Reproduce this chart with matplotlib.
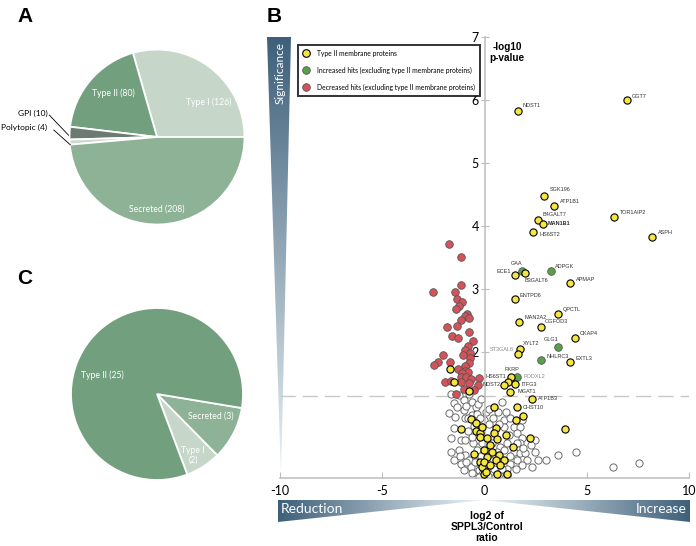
import numpy as np
import matplotlib.pyplot as plt
from matplotlib.patches import Polygon
from matplotlib.lines import Line2D

W, H = 696, 546

# ---------------- data ----------------
# panel A: all hits by topology
pie_a_labels = ["Type I (126)", "Type II (80)", "GPI (10)", "Polytopic (4)", "Secreted (208)"]
pie_a_values = [126, 80, 10, 4, 208]

# panel C: significant hits
pie_c_labels = ["Type I\n(2)", "Secreted (3)", "Type II (25)"]
pie_c_values = [2, 3, 25]

# panel B: labelled type II membrane proteins (log2 ratio, -log10 p)
yellow_names = ["GGT7", "NDST1", "SGK196", "ATP1B1", "B4GALT7", "MAN1B1", "HS6ST2",
                "TOR1AIP2", "ASPH", "ECE1", "B3GALT6", "APMAP", "ENTPD6", "QPCTL",
                "MAN2A2", "OGFOD3", "CKAP4", "XYLT2", "ST3GAL6", "EXTL3", "FKRP",
                "HS6ST1", "ITFG3", "NDST2", "MGAT1", "ATP1B3", "CHST10"]
yellow_x = [6.98, 1.63, 2.92, 3.41, 2.61, 2.85, 2.38, 6.31, 8.21, 1.50, 2.00, 4.20,
            1.48, 3.60, 1.69, 2.77, 4.43, 1.74, 1.64, 4.20, 1.32, 1.14, 1.50, 0.94,
            1.27, 2.30, 1.58]
yellow_y = [6.00, 5.83, 4.48, 4.32, 4.10, 4.03, 3.90, 4.15, 3.82, 3.23, 3.26, 3.10,
            2.84, 2.61, 2.48, 2.40, 2.23, 2.04, 1.97, 1.84, 1.61, 1.53, 1.49, 1.47,
            1.37, 1.25, 1.13]

# unlabelled type II membrane proteins
yellow_x2 = [-1.70, -1.47, -0.75, 1.89, 1.55, 3.96, 0.46, -0.68, -0.44, -1.14, -0.44,
             -0.24, -0.20, -0.52, -0.20, -0.11, -0.03, -0.11, 0.54, 0.46, 1.03, 0.13,
             0.62, 2.22, 1.39, 0.29, -0.03, 0.38, 0.70, 0.13, 0.54, 0.94, -0.03, 0.29,
             0.78, 0.05, 0.62, 1.11]
yellow_y2 = [1.73, 1.52, 1.38, 0.98, 0.92, 0.77, 1.12, 0.94, 0.87, 0.77, 0.75, 0.72,
             0.65, 0.38, 0.26, 0.18, 0.07, 0.81, 0.79, 0.71, 0.68, 0.63, 0.62, 0.63,
             0.49, 0.52, 0.44, 0.42, 0.37, 0.34, 0.29, 0.29, 0.26, 0.21, 0.21, 0.10,
             0.07, 0.07]

# increased hits (not type II)
green_names = ["GAA", "ADPGK", "GLG1", "NHLRC3", "PODXL2"]
green_x = [1.81, 3.26, 3.60, 2.77, 1.60]
green_y = [3.28, 3.29, 2.08, 1.88, 1.60]

# decreased hits (not type II)
red_x = [-1.74, -1.16, -1.16, -2.54, -1.43, -1.34, -1.11, -1.24, -1.40, -0.88, -0.96,
         -0.75, -1.17, -1.34, -1.81, -0.77, -1.60, -1.29, -0.54, -0.80, -0.93, -0.73,
         -1.04, -2.04, -0.72, -0.75, -0.93, -2.26, -2.49, -1.68, -1.30, -0.96, -0.80,
         -1.09, -1.17, -0.91, -0.68, -0.29, -1.92, -1.66, -1.17, -0.77, -0.33, -1.01,
         -0.52, -1.38]
red_y = [3.71, 3.51, 3.06, 2.96, 2.95, 2.84, 2.79, 2.73, 2.68, 2.61, 2.57, 2.54, 2.51,
         2.42, 2.40, 2.31, 2.25, 2.23, 2.18, 2.10, 2.03, 1.98, 1.95, 1.96, 1.90, 1.82,
         1.78, 1.84, 1.80, 1.84, 1.73, 1.70, 1.69, 1.66, 1.61, 1.61, 1.57, 1.58, 1.53,
         1.54, 1.52, 1.51, 1.47, 1.41, 1.40, 1.33]

# non-significant proteins
gray_x = [-1.66, -1.26, -0.77, -1.01, -0.60, -1.50, -0.44, -1.34, -1.74, -1.01, 0.05,
          -1.42, -0.93, -0.03, 0.94, 1.27, 1.84, -1.50, -0.68, 0.94, 1.43, 1.76, -1.66,
          -1.17, 1.19, 1.60, 1.84, 2.49, 1.76, 2.25, -1.66, -1.26, -0.93, 1.43, 1.76,
          2.00, -1.50, -0.77, 1.60, 2.09, -1.17, -0.36, 1.27, 1.84, 2.33, -0.68, -0.28,
          1.11, 1.52, -0.11, 0.29, 0.70, 1.11, -1.01,
          -0.60, -0.35, -0.20, -0.50, -0.30, -0.55, -0.10, 0.10, -0.35, -0.60, -0.80,
          -0.15, 0.25, 0.45, 0.85, -0.45, 0.00, 0.35, 0.75, 0.95, 0.20, 0.40, 0.70,
          1.10, 1.25, 0.60, 0.15, 0.50, -0.25, -0.60, -0.90, -1.20, -0.95, -0.80,
          -0.30, -0.90, -0.15, 0.20, 0.65, 0.85, 1.05, 1.60, 1.90, 2.60, 2.45,
          3.03, 3.60, 4.48, 6.29, 7.56]
gray_y = [1.34, 1.32, 1.34, 1.24, 1.21, 1.19, 1.13, 1.13, 1.03, 1.08, 1.05, 0.97, 0.95,
          0.92, 0.92, 0.95, 0.92, 0.79, 0.73, 0.81, 0.81, 0.81, 0.63, 0.60, 0.68, 0.71,
          0.63, 0.60, 0.55, 0.52, 0.42, 0.44, 0.37, 0.42, 0.39, 0.39, 0.29, 0.29, 0.29,
          0.29, 0.23, 0.26, 0.23, 0.21, 0.18, 0.18, 0.13, 0.15, 0.15, 0.07, 0.07, 0.07,
          0.05, 0.13,
          1.00, 1.02, 0.95, 0.82, 0.60, 0.55, 0.55, 0.45, 0.45, 0.65, 0.75, 0.35, 0.28,
          0.15, 0.15, 0.25, 0.20, 0.55, 0.50, 0.45, 0.85, 0.95, 0.85, 0.55, 0.35, 0.42,
          0.03, 0.02, 0.02, 0.08, 0.25, 0.35, 0.60, 0.95, 1.18, 1.15, 1.25, 1.10, 1.05,
          1.20, 1.05, 0.55, 0.48, 0.28, 0.42,
          0.29, 0.36, 0.41, 0.17, 0.24]

x_ticks = [-10, -5, 0, 5, 10]
y_ticks = [1, 2, 3, 4, 5, 6, 7]
p_cut = 1.3  # -log10(0.05)

# label placement (pixel offsets from the point, horizontal alignment)
label_pos = {
    "GGT7": (5, 3, "left"), "NDST1": (5, 5, "left"), "SGK196": (6, 6, "left"),
    "ATP1B1": (6, 4, "left"), "B4GALT7": (5, 5, "left"), "MAN1B1": (5, 1, "left"),
    "HS6ST2": (6, -2, "left"), "TOR1AIP2": (6, 4, "left"), "ASPH": (6, 5, "left"),
    "ECE1": (-4, 3, "right"), "B3GALT6": (-1, -8, "left"), "APMAP": (6, 3, "left"),
    "ENTPD6": (5, 4, "left"), "QPCTL": (5, 4, "left"), "MAN2A2": (5, 4, "left"),
    "OGFOD3": (4, 5, "left"), "CKAP4": (5, 4, "left"), "XYLT2": (3, 6, "left"),
    "ST3GAL6": (-4, 4, "right"), "EXTL3": (5, 4, "left"), "FKRP": (0, 7, "center"),
    "HS6ST1": (-2, 5, "right"), "ITFG3": (6, 0, "left"), "NDST2": (-3, 1, "right"),
    "MGAT1": (7, 0, "left"), "ATP1B3": (6, 1, "left"), "CHST10": (6, -1, "left"),
    "GAA": (-5, 8, "center"), "ADPGK": (4, 4, "left"), "GLG1": (-14, 7, "left"),
    "NHLRC3": (5, 3, "left"), "PODXL2": (6, 1, "left"),
}
light_labels = ["ST3GAL6", "PODXL2"]

# ---------------- figure ----------------
fig = plt.figure(figsize=(W / 100, H / 100), dpi=100)
fig.patch.set_facecolor("white")


def px_axes(x0, y0, x1, y1, **kw):
    return fig.add_axes([x0 / W, 1 - y1 / H, (x1 - x0) / W, (y1 - y0) / H], **kw)


# background layer in pixel coordinates for the gradient wedges
bg = fig.add_axes([0, 0, 1, 1], zorder=0)
bg.set_xlim(0, W)
bg.set_ylim(H, 0)
bg.axis("off")

dark = np.array([62, 96, 122]) / 255
light = np.array([236, 243, 247]) / 255


def gradient_wedge(pts, vertical, reverse=False):
    t = np.linspace(0, 1, 256)
    if reverse:
        t = t[::-1]
    cols = dark[None, :] * (1 - t[:, None]) + light[None, :] * t[:, None]
    xs = [p[0] for p in pts]
    ys = [p[1] for p in pts]
    if vertical:
        img = cols[:, None, :]
    else:
        img = cols[None, :, :]
    im = bg.imshow(img, extent=[min(xs), max(xs), max(ys), min(ys)],
                   aspect="auto", interpolation="bilinear")
    poly = Polygon(pts, closed=True, facecolor="none", edgecolor="none")
    bg.add_patch(poly)
    im.set_clip_path(poly)


gradient_wedge([(267, 37), (291, 37), (281, 478)], vertical=True)
gradient_wedge([(278, 500), (278, 522), (484, 500)], vertical=False)
gradient_wedge([(484, 500), (690, 522), (690, 500)], vertical=False, reverse=True)

bg.text(280, 42, "Significance", rotation=90, ha="center", va="top",
        color="white", fontsize=8.5, family="Lato")
bg.text(281, 509, "Reduction", ha="left", va="center", color="white",
        fontsize=10, family="Lato")
bg.text(687, 509, "Increase", ha="right", va="center", color="white",
        fontsize=10, family="Lato")
bg.text(487, 527, "log2 of\nSPPL3/Control\nratio", ha="center", va="center",
        fontsize=7.5, fontweight="bold", family="Liberation Sans",
        linespacing=1.15)

for letter, (lx, ly) in {"A": (25, 16), "B": (274, 16), "C": (25, 279)}.items():
    bg.text(lx, ly, letter, ha="center", va="center", fontsize=15,
            fontweight="bold", family="Liberation Sans")

# ---------------- panel A ----------------
axA = px_axes(157 - 87.5, 137 - 87.5, 157 + 87.5, 137 + 87.5)
colors_a = ["#c6d6c8", "#72a07f", "#6b7b71", "#cfd8d1", "#8db295"]
axA.pie(pie_a_values, colors=colors_a, startangle=0, counterclock=True,
        wedgeprops=dict(edgecolor="white", linewidth=1.3))
axA.set_xlim(-1, 1)
axA.set_ylim(-1, 1)
inner_a = {0: (0.59, 0.40), 1: (-0.50, 0.50), 4: (0.0, -0.82)}
for i, (tx, ty) in inner_a.items():
    axA.text(tx, ty, pie_a_labels[i], ha="center", va="center", color="white",
             fontsize=6.2, family="Lato")
axA.text(-1.25, 0.27, pie_a_labels[2], ha="right", va="center", fontsize=6,
         family="Lato", clip_on=False)
axA.text(-1.26, 0.11, pie_a_labels[3], ha="right", va="center", fontsize=6,
         family="Lato", clip_on=False)
axA.plot([-1.23, -1.01], [0.25, 0.02], color="black", lw=0.6, clip_on=False)
axA.plot([-1.18, -0.99], [0.08, -0.09], color="black", lw=0.6, clip_on=False)

# ---------------- panel C ----------------
axC = px_axes(157 - 86, 394 - 86, 157 + 86, 394 + 86)
colors_c = ["#c6d6c8", "#8db295", "#72a07f"]
axC.pie(pie_c_values, colors=colors_c, startangle=-69.4, counterclock=True,
        wedgeprops=dict(edgecolor="white", linewidth=1.3))
axC.set_xlim(-1, 1)
axC.set_ylim(-1, 1)
inner_c = [(0.42, -0.71), (0.63, -0.26), (-0.64, 0.22)]
for lab, (tx, ty) in zip(pie_c_labels, inner_c):
    axC.text(tx, ty, lab, ha="center", va="center", color="white",
             fontsize=6.2, family="Lato", linespacing=1.1)

# ---------------- panel B ----------------
ax = px_axes(280, 37, 689, 478, zorder=1)
ax.set_facecolor("none")
ax.set_xlim(-10, 10)
ax.set_ylim(0, 7)

for side in ["top", "right"]:
    ax.spines[side].set_visible(False)
ax.spines["left"].set_position(("data", 0))
for side in ["left", "bottom"]:
    ax.spines[side].set_color("#bdbdbd")
    ax.spines[side].set_linewidth(1.1)

ax.set_xticks(x_ticks)
ax.set_xticklabels([str(v) for v in x_ticks])
ax.set_yticks(y_ticks)
ax.set_yticklabels([str(v) for v in y_ticks])
ax.tick_params(axis="x", direction="in", length=4, color="#bdbdbd", pad=5,
               labelsize=9)
ax.tick_params(axis="y", direction="inout", length=6, color="#bdbdbd", pad=1,
               labelsize=9)
for lab in ax.get_xticklabels() + ax.get_yticklabels():
    lab.set_family("Lato")

ax.axhline(p_cut, color="#c8c8c8", lw=1.0, dashes=(11, 5), zorder=1)

ms = 27
ax.scatter(gray_x, gray_y, s=ms, facecolor="white", edgecolor="#6a6a6a",
           linewidth=0.7, zorder=2)
ax.scatter(red_x, red_y, s=ms + 3, facecolor="#d6525a", edgecolor="#555555",
           linewidth=0.6, zorder=3)
ax.scatter(green_x, green_y, s=ms + 3, facecolor="#5aa04a", edgecolor="#555555",
           linewidth=0.6, zorder=4)
ax.scatter(yellow_x2, yellow_y2, s=ms, facecolor="#f5e642", edgecolor="black",
           linewidth=0.8, zorder=5)
ax.scatter(yellow_x, yellow_y, s=ms, facecolor="#f5e642", edgecolor="black",
           linewidth=0.8, zorder=5)

for name, gx, gy in list(zip(yellow_names, yellow_x, yellow_y)) + \
        list(zip(green_names, green_x, green_y)):
    dx, dy, ha = label_pos[name]
    col = "#8a8a8a" if name in light_labels else "#333333"
    ax.annotate(name, (gx, gy), xytext=(dx, dy), textcoords="offset pixels",
                ha=ha, va="center", fontsize=4, color=col,
                family="Liberation Sans",
                fontweight="bold" if name == "MAN1B1" else "normal", zorder=6)

ax.text(1.1, 6.76, "-log10\np-value", ha="center", va="center", fontsize=7.2,
        fontweight="bold", family="Liberation Sans", linespacing=1.1)

handles = [
    Line2D([], [], ls="none", marker="o", ms=5.5, mfc="#f5e642", mec="black", mew=0.8),
    Line2D([], [], ls="none", marker="o", ms=5.5, mfc="#5aa04a", mec="#555555", mew=0.6),
    Line2D([], [], ls="none", marker="o", ms=5.5, mfc="#d6525a", mec="#555555", mew=0.6),
]
leg = ax.legend(handles,
                ["Type II membrane proteins",
                 "Increased hits (excluding type II membrane proteins)",
                 "Decreased hits (excluding type II membrane proteins)"],
                loc="upper left", bbox_to_anchor=(17.5 / 409, 1 - 8 / 441),
                prop={"family": "Lato", "size": 4.9}, frameon=True,
                fancybox=False, borderpad=0.7, labelspacing=1.45,
                handletextpad=1.2, handlelength=1.0, borderaxespad=0)
leg.get_frame().set_edgecolor("black")
leg.get_frame().set_linewidth(1.4)
leg.set_zorder(7)

fig.savefig("out.png", dpi=100)
